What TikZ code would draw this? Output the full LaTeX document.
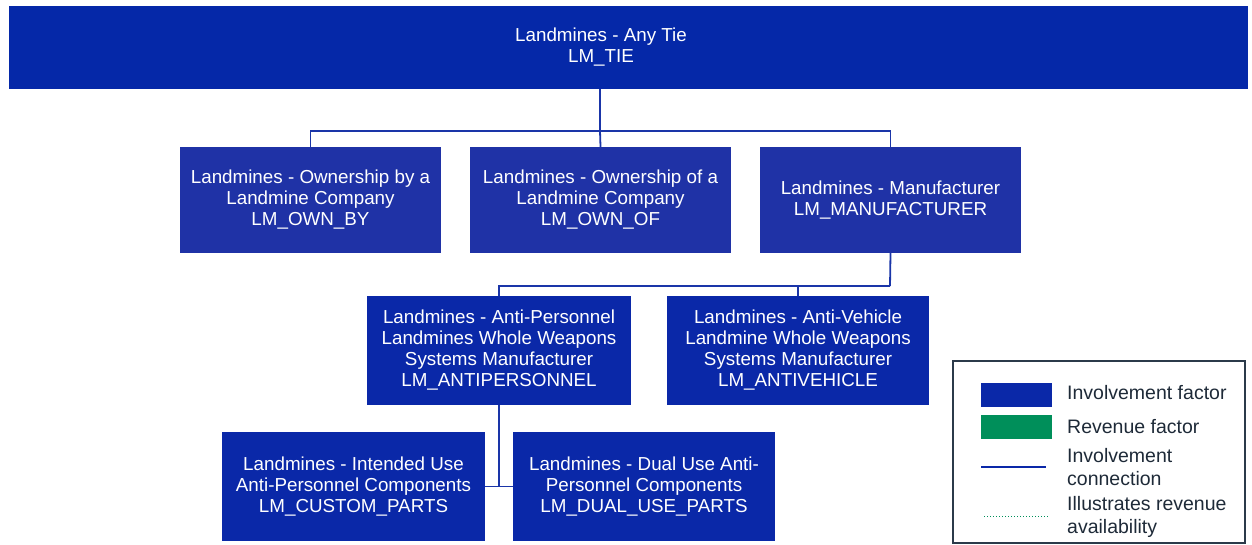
\documentclass[tikz,border=0pt]{standalone}
\usepackage{fontspec}
\setmainfont{Liberation Sans}
\definecolor{topblue}{HTML}{0528A8}
\definecolor{midblue}{HTML}{1F32A6}
\definecolor{boxblue}{HTML}{0A28A8}
\definecolor{lineblue}{HTML}{1A35A8}
\definecolor{revgreen}{HTML}{008F5A}
\definecolor{legframe}{HTML}{2B3A4A}
\definecolor{legtext}{HTML}{1E2A38}
\begin{document}
\begin{tikzpicture}[x=1pt,y=-1pt,
  factor/.style={fill=#1, draw=none, text=white, align=center, font=\fontsize{18.8}{21}\selectfont, inner sep=0pt},
  conn/.style={draw=lineblue, line width=1.8pt},
  legtxt/.style={anchor=west, text=legtext, align=left, font=\fontsize{19.5}{23}\selectfont, inner sep=0pt}]
\useasboundingbox (0,0) rectangle (1252,544);
% boxes
\node[factor=topblue, minimum width=1239pt, minimum height=83pt] (tie) at (628.5,47.5) {};
\node[text=white, align=center, font=\fontsize{18.8}{21}\selectfont, inner sep=0pt] (tietext) at (601,47.5) {Landmines - Any Tie\\LM\_TIE};
\node[factor=midblue, minimum width=261pt, minimum height=106pt] (ownby) at (310.5,200) {Landmines - Ownership by a\\Landmine Company\\LM\_OWN\_BY};
\node[factor=midblue, minimum width=261pt, minimum height=106pt] (ownof) at (600.5,200) {Landmines - Ownership of a\\Landmine Company\\LM\_OWN\_OF};
\node[factor=midblue, minimum width=261pt, minimum height=106pt] (manu) at (890.5,200) {Landmines - Manufacturer\\LM\_MANUFACTURER};
\node[factor=boxblue, minimum width=264pt, minimum height=109pt] (ap) at (499,350.5) {Landmines - Anti-Personnel\\Landmines Whole Weapons\\Systems Manufacturer\\LM\_ANTIPERSONNEL};
\node[factor=boxblue, minimum width=262pt, minimum height=109pt] (av) at (798,350.5) {Landmines - Anti-Vehicle\\Landmine Whole Weapons\\Systems Manufacturer\\LM\_ANTIVEHICLE};
\node[factor=boxblue, minimum width=263pt, minimum height=109pt] (iu) at (353.5,486.5) {Landmines - Intended Use\\Anti-Personnel Components\\LM\_CUSTOM\_PARTS};
\node[factor=boxblue, minimum width=262pt, minimum height=109pt] (du) at (644,486.5) {Landmines - Dual Use Anti-\\Personnel Components\\LM\_DUAL\_USE\_PARTS};
% connectors
\coordinate (j1) at (600,131);
\draw[conn] (tie.south -| j1) -- (j1);
\draw[conn] (ownby.north) |- (j1) -| (manu.north);
\draw[conn] (j1) -- (ownof.north);
\coordinate (j2) at (890,286);
\draw[conn] (manu.south) -- (j2);
\draw[conn] (j2) -| (ap.north);
\draw[conn] (j2 -| av.north) -- (av.north);
\coordinate (j3) at (499,486);
\draw[conn] (ap.south) -- (j3);
\draw[conn] (iu.east) -- (du.west);
% legend
\node[draw=legframe, line width=1.8pt, minimum width=292pt, minimum height=182pt, inner sep=0pt] (legend) at (1099,452) {};
\node[fill=boxblue, minimum width=71pt, minimum height=24pt, inner sep=0pt] (sw1) at (1016.5,395) {};
\node[fill=revgreen, minimum width=71pt, minimum height=24pt, inner sep=0pt] (sw2) at (1016.5,427) {};
\coordinate (l1a) at (981,467); \coordinate (l1b) at (1046,467);
\draw[draw=boxblue, line width=1.2pt] (l1a) -- (l1b);
\coordinate (l2a) at (984,516); \coordinate (l2b) at (1048,516);
\draw[draw=revgreen, line width=1pt, dotted] (l2a) -- (l2b);
\node[legtxt] (t1) at (1067,393) {Involvement factor};
\node[legtxt] (t2) at (1067,427) {Revenue factor};
\node[legtxt] (t3) at (1067,467.5) {Involvement\\connection};
\node[legtxt] (t4) at (1067,516.5) {Illustrates revenue\\availability};
\end{tikzpicture}
\end{document}
